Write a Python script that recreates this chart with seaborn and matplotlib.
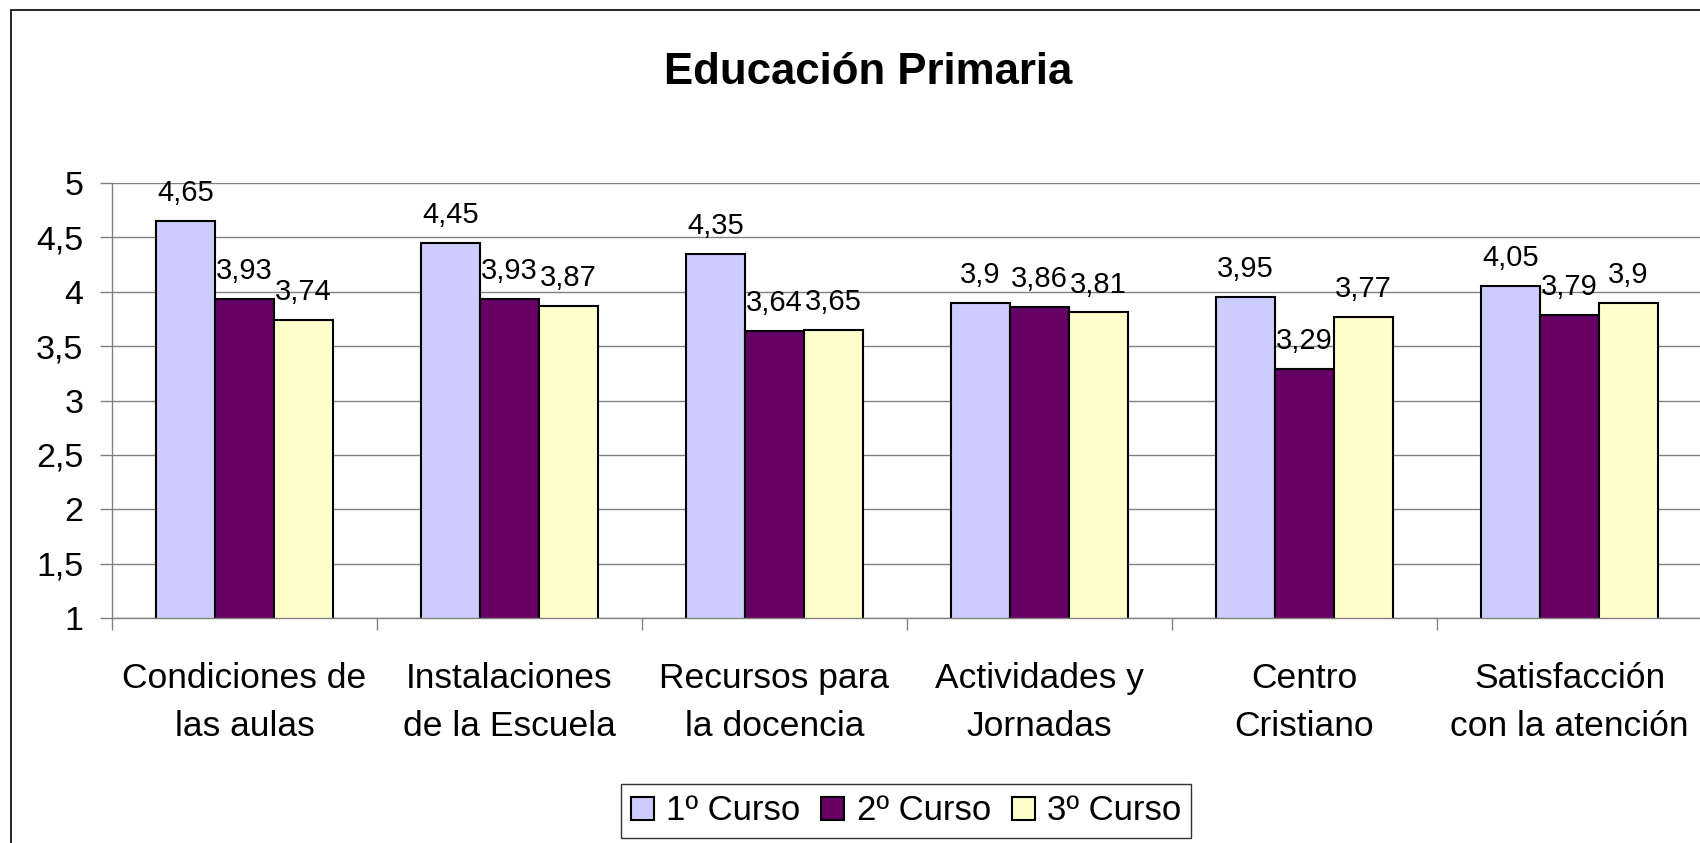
import pandas as pd
import numpy as np
import seaborn as sns
import matplotlib.pyplot as plt
from matplotlib.patches import Rectangle
from matplotlib.ticker import FixedLocator, FuncFormatter

categorias = ['Condiciones de\nlas aulas', 'Instalaciones\nde la Escuela', 'Recursos para\nla docencia',
              'Actividades y\nJornadas', 'Centro\nCristiano', 'Satisfacción\ncon la atención']
cursos = ['1º Curso', '2º Curso', '3º Curso']
curso1 = [4.65, 4.45, 4.35, 3.9, 3.95, 4.05]
curso2 = [3.93, 3.93, 3.64, 3.86, 3.29, 3.79]
curso3 = [3.74, 3.87, 3.65, 3.81, 3.77, 3.9]
colores = ['#CCCCFF', '#660066', '#FFFFCC']

df = pd.DataFrame({
    'categoria': categorias * 3,
    'curso': [c for c in cursos for _ in categorias],
    'valor': curso1 + curso2 + curso3,
})

plt.rcParams['font.family'] = ['Liberation Sans', 'DejaVu Sans']

fig = plt.figure(figsize=(17, 8.43), dpi=100)
ax = fig.add_axes([0.0659, 0.2669, 1.0012 - 0.0659, 0.7829 - 0.2669])

sns.barplot(data=df, x='categoria', y='valor', hue='curso', palette=colores, saturation=1,
            edgecolor='black', linewidth=1.5, width=0.667, gap=0, ax=ax)

for cont in ax.containers:
    vals = [p.get_height() for p in cont]
    ax.bar_label(cont, labels=[('%g' % v).replace('.', ',') for v in vals], padding=10, fontsize=21)

ax.set_ylim(1, 5)
ax.set_xlim(-0.5, 5.5)
ax.set_yticks(np.arange(1, 5.01, 0.5))
ax.yaxis.set_major_formatter(FuncFormatter(lambda v, p: ('%g' % v).replace('.', ',')))
ax.tick_params(axis='y', labelsize=24.5, length=8.6, width=1, color='#808080', pad=12)

ax.xaxis.set_major_locator(FixedLocator(np.arange(-0.5, 6, 1)))
ax.xaxis.set_major_formatter(FuncFormatter(lambda v, p: ''))
ax.xaxis.set_minor_locator(FixedLocator(np.arange(0, 6)))
ax.set_xticklabels(categorias, minor=True)
ax.tick_params(axis='x', which='major', length=8.6, width=1, color='#808080')
ax.tick_params(axis='x', which='minor', length=0, labelsize=25.5, pad=31.5)
for t in ax.get_xticklabels(minor=True):
    t.set_linespacing(1.6)

ax.yaxis.grid(True, color='#808080', linewidth=1)
ax.set_axisbelow(True)
for s in ['top', 'right']:
    ax.spines[s].set_visible(False)
for s in ['left', 'bottom']:
    ax.spines[s].set_color('#808080')
    ax.spines[s].set_linewidth(1)
ax.set_xlabel('')
ax.set_ylabel('')

handles, labels = ax.get_legend_handles_labels()
ax.legend_.remove()
leg = fig.legend(handles, labels, loc='center', bbox_to_anchor=(0.533, 0.038), ncol=3, fontsize=25,
                 frameon=True, fancybox=False, edgecolor='black', handlelength=0.66, handleheight=0.66,
                 handletextpad=0.35, columnspacing=0.6, borderpad=0.3)
leg.get_frame().set_linewidth(1)

fig.text(0.5106, 0.914, 'Educación Primaria', ha='center', va='center', fontsize=31.5, fontweight='bold')
fig.patches.append(Rectangle((11 / 1700, -0.1), 1.2, 1.1 - 10 / 843, transform=fig.transFigure,
                             fill=False, edgecolor='black', linewidth=1.2))

plt.savefig('out.png')
